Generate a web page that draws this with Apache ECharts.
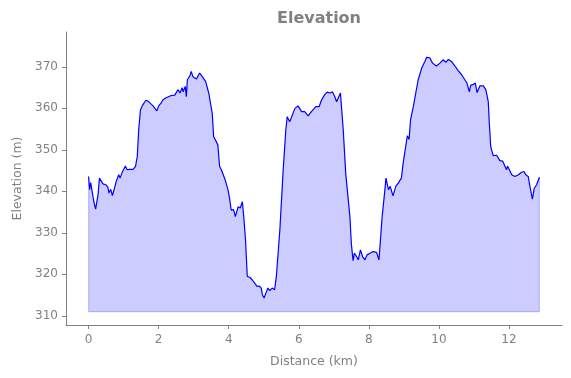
<!DOCTYPE html>
<html>
<head>
<meta charset="utf-8">
<script src="https://cdn.jsdelivr.net/npm/echarts@6/dist/echarts.min.js"></script>
<style>html,body{margin:0;padding:0;background:#fff;}#c{width:571px;height:378px;}</style>
</head>
<body>
<div id="c"></div>
<script>
const distanceKm = [0.00,0.03,0.06,0.10,0.15,0.20,0.27,0.31,0.36,0.41,0.49,0.55,0.58,0.63,0.68,0.72,0.79,0.86,0.90,0.95,1.00,1.05,1.10,1.16,1.21,1.27,1.34,1.39,1.43,1.48,1.53,1.63,1.69,1.84,1.95,2.00,2.08,2.12,2.20,2.36,2.46,2.55,2.61,2.67,2.70,2.76,2.79,2.82,2.89,2.93,2.98,3.08,3.17,3.25,3.34,3.43,3.53,3.57,3.62,3.69,3.74,3.79,3.89,3.98,4.03,4.07,4.14,4.19,4.27,4.33,4.39,4.43,4.48,4.53,4.60,4.67,4.74,4.81,4.87,4.93,4.96,5.01,5.08,5.12,5.17,5.24,5.31,5.36,5.46,5.55,5.63,5.67,5.74,5.79,5.84,5.89,5.98,6.08,6.17,6.27,6.36,6.41,6.49,6.58,6.65,6.74,6.81,6.89,6.96,7.03,7.08,7.12,7.19,7.22,7.27,7.34,7.46,7.50,7.55,7.59,7.65,7.70,7.76,7.82,7.89,7.95,8.03,8.12,8.22,8.29,8.38,8.44,8.49,8.56,8.61,8.69,8.77,8.84,8.93,8.98,9.06,9.10,9.15,9.19,9.27,9.34,9.41,9.51,9.60,9.65,9.74,9.82,9.93,10.03,10.12,10.20,10.27,10.36,10.46,10.55,10.65,10.74,10.80,10.87,10.91,10.97,11.04,11.09,11.17,11.27,11.34,11.41,11.44,11.48,11.55,11.65,11.74,11.82,11.89,11.93,11.96,12.00,12.08,12.17,12.27,12.36,12.43,12.48,12.55,12.60,12.67,12.72,12.79,12.87];
const elevationM = [343.6,340.4,342.1,341.8,337.5,335.7,339.2,343.2,343.0,341.8,341.6,341.0,339.6,340.5,339.0,340.2,342.4,344.0,343.2,344.4,344.8,346.1,345.2,345.3,345.0,345.3,346.0,348.4,354.8,359.6,360.6,361.9,361.8,360.6,359.4,360.6,361.4,362.0,362.5,363.1,363.2,364.5,363.7,365.0,364.0,365.3,362.8,366.9,367.8,368.9,367.6,367.1,368.5,367.6,366.5,363.7,358.8,353.2,352.8,351.2,346.0,345.2,343.0,340.4,338.0,335.5,335.6,333.9,336.3,336.0,337.5,333.9,328.3,319.5,319.3,318.7,317.9,317.1,317.2,316.7,315.1,314.3,315.9,316.7,316.1,316.7,316.3,319.5,330.7,344.4,354.8,358.0,356.8,357.8,357.8,360.0,360.6,359.2,359.2,358.2,359.2,358.8,360.4,360.4,362.0,363.3,363.9,363.7,364.0,362.8,361.6,362.4,363.7,363.3,354.8,344.4,333.9,327.5,323.3,325.1,324.3,323.5,325.9,324.3,323.5,324.7,325.1,325.5,325.3,323.5,333.9,338.8,343.2,340.4,341.2,338.9,341.2,342.0,343.2,346.8,351.2,353.4,352.5,357.2,360.4,363.7,366.9,369.7,371.3,372.3,372.2,370.9,370.2,370.9,371.7,371.1,371.8,371.3,370.2,369.1,368.1,366.9,366.1,364.0,365.6,365.7,366.1,363.8,365.4,365.4,364.5,361.6,356.4,350.8,348.6,348.7,347.4,347.3,346.0,345.2,346.1,346.0,344.0,343.6,344.0,344.6,344.8,344.0,343.6,341.2,338.1,340.7,341.6,343.4];
const baselineM = 311;
const xTicks = [0,2,4,6,8,10,12];
const yTicks = [310,320,330,340,350,360,370];
const xRange = [-0.645, 13.515];
const yRange = [307.8, 378.4];

const profile = distanceKm.map((d, i) => [d, elevationM[i]]);
const last = distanceKm.length - 1;
const edge = [
  [distanceKm[0], elevationM[0]],
  [distanceKm[0], baselineM],
  [distanceKm[last], baselineM],
  [distanceKm[last], elevationM[last]]
];

const gray = '#808080';
const chart = echarts.init(document.getElementById('c'), null, {renderer: 'canvas'});
chart.setOption({
  animation: false,
  backgroundColor: '#ffffff',
  title: {
    text: 'Elevation',
    left: 314, top: 6, textAlign: 'center',
    textStyle: {fontFamily: 'DejaVu Sans', fontSize: 16, fontWeight: 'bold', color: gray}
  },
  grid: {left: 66, right: 9, top: 32, bottom: 53, containLabel: false},
  xAxis: {
    type: 'value', min: xRange[0], max: xRange[1],
    name: 'Distance (km)', nameLocation: 'middle', nameGap: 30,
    nameTextStyle: {fontFamily: 'DejaVu Sans', fontSize: 12.5, color: gray},
    axisLine: {show: true, onZero: false, lineStyle: {color: gray, width: 1}},
    axisTick: {show: true, length: 4, lineStyle: {color: gray}, customValues: xTicks},
    axisLabel: {fontFamily: 'DejaVu Sans', fontSize: 12, color: gray, margin: 9, customValues: xTicks},
    splitLine: {show: false}
  },
  yAxis: {
    type: 'value', min: yRange[0], max: yRange[1],
    name: 'Elevation (m)', nameLocation: 'middle', nameGap: 40,
    nameTextStyle: {fontFamily: 'DejaVu Sans', fontSize: 12.5, color: gray},
    axisLine: {show: true, onZero: false, lineStyle: {color: gray, width: 1}},
    axisTick: {show: true, length: 4, lineStyle: {color: gray}, customValues: yTicks},
    axisLabel: {fontFamily: 'DejaVu Sans', fontSize: 12, color: gray, margin: 8, customValues: yTicks},
    splitLine: {show: false}
  },
  series: [
    {
      type: 'line', data: profile, showSymbol: false, symbol: 'none',
      lineStyle: {color: '#0000ff', width: 1.2},
      areaStyle: {color: 'rgba(0,0,255,0.2)', opacity: 1, origin: baselineM},
      z: 3
    },
    {
      type: 'line', data: edge, showSymbol: false, symbol: 'none',
      lineStyle: {color: 'rgba(0,0,255,0.2)', width: 1.2},
      z: 2
    }
  ]
});
</script>
</body>
</html>
